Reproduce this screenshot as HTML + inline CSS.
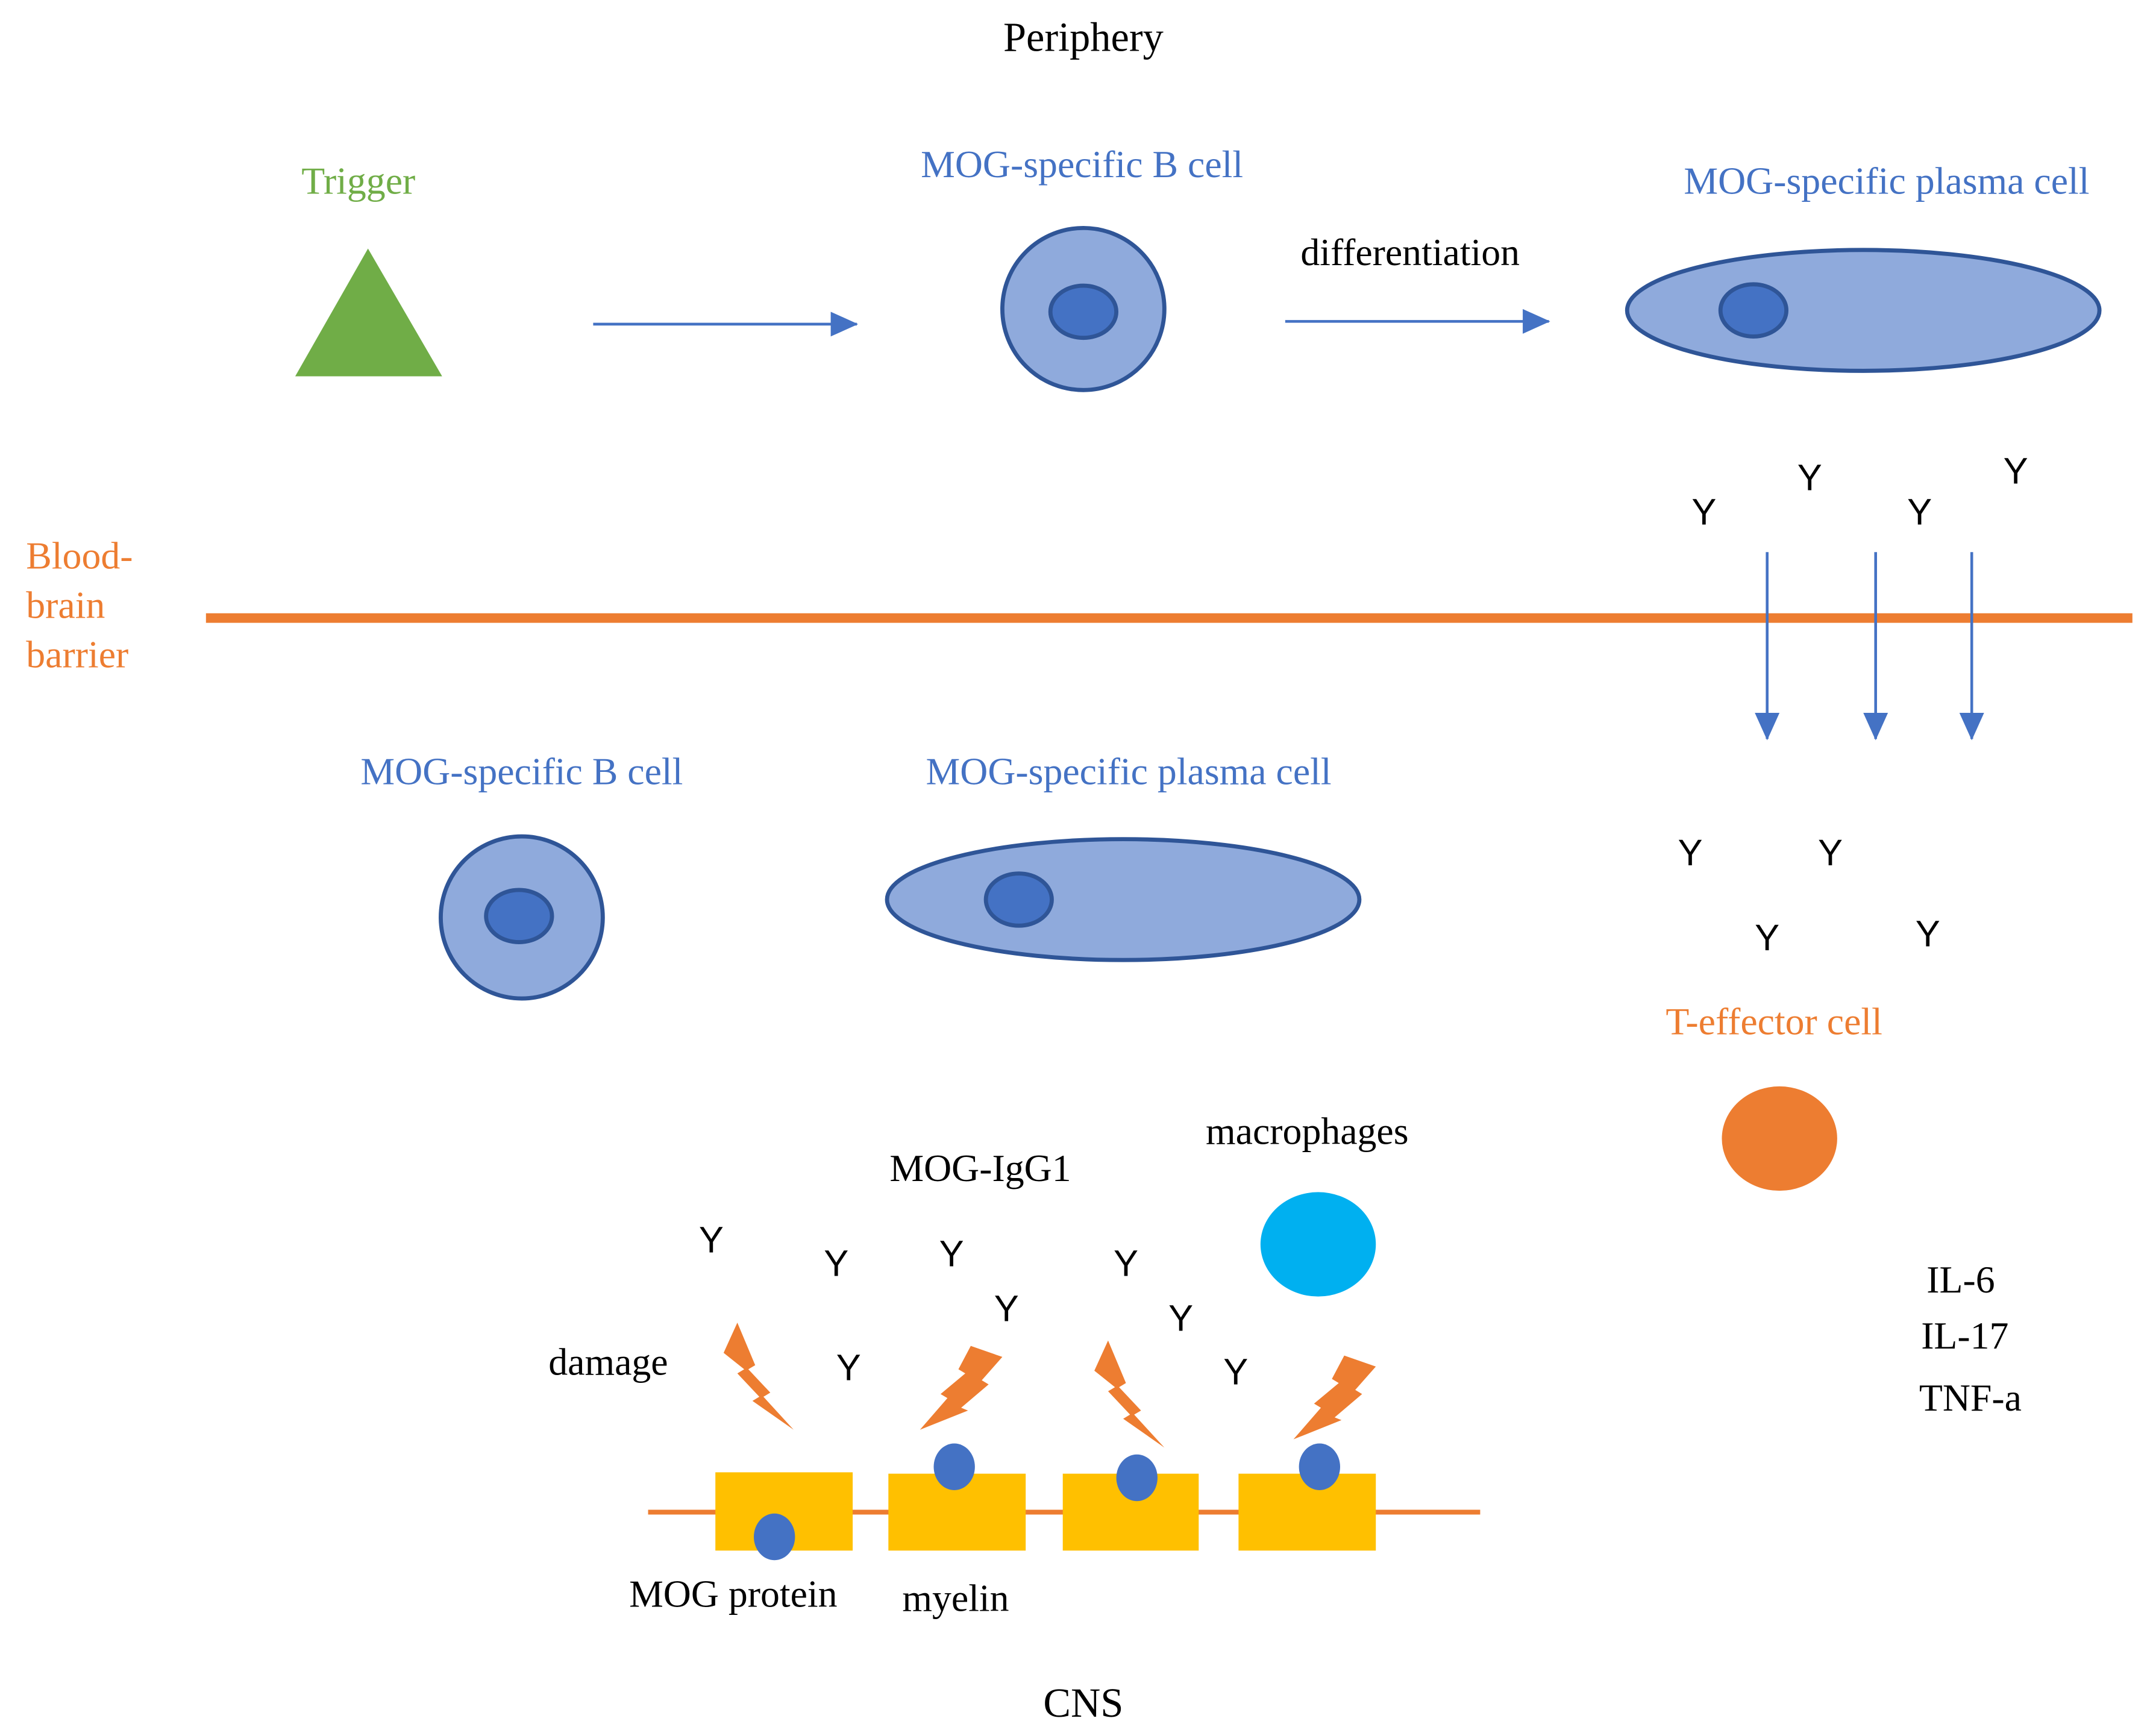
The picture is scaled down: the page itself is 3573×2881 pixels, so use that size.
<!DOCTYPE html>
<html><head><meta charset="utf-8"><style>
html,body{margin:0;padding:0;background:#fff;}
svg{display:block;}
.s{font-family:"Liberation Serif",serif;}
.y{font-family:"Liberation Sans",sans-serif;font-size:27px;fill:#000;text-anchor:middle;}
</style></head><body>
<svg width="3573" height="2881" viewBox="0 0 1568 1264" preserveAspectRatio="none" xmlns="http://www.w3.org/2000/svg">
<defs>
<marker id="ah2" markerWidth="20" markerHeight="18" refX="19" refY="9" orient="auto" markerUnits="userSpaceOnUse" viewBox="0 0 20 18">
<path d="M0,0 L20,9 L0,18 z" fill="#4472C4"/></marker>
</defs>
<g class="s" font-size="28" text-anchor="middle">
<text x="789" y="37" fill="#000" font-size="30">Periphery</text>
<text x="261" y="141" fill="#70AD47">Trigger</text>
<text x="788" y="129" fill="#4472C4">MOG-specific B cell</text>
<text x="1027" y="193" fill="#000">differentiation</text>
<text x="1374" y="141" fill="#4472C4">MOG-specific plasma cell</text>
<text x="380" y="571" fill="#4472C4">MOG-specific B cell</text>
<text x="822" y="571" fill="#4472C4">MOG-specific plasma cell</text>
<text x="1292" y="753" fill="#ED7D31">T-effector cell</text>
<text x="952" y="833" fill="#000">macrophages</text>
<text x="714" y="860" fill="#000">MOG-IgG1</text>
<text x="443" y="1001" fill="#000">damage</text>
<text x="1428" y="941" fill="#000">IL-6</text>
<text x="1431" y="982" fill="#000">IL-17</text>
<text x="1435" y="1027" fill="#000">TNF-a</text>
<text x="534" y="1170" fill="#000">MOG protein</text>
<text x="696" y="1173" fill="#000">myelin</text>
<text x="789" y="1250" fill="#000" font-size="30">CNS</text>
</g>
<g class="s" font-size="28" fill="#ED7D31">
<text x="19" y="414">Blood-</text>
<text x="19" y="450">brain</text>
<text x="19" y="486">barrier</text>
</g>
<polygon points="215,274 322,274 268,181" fill="#70AD47"/>
<line x1="432" y1="236" x2="624" y2="236" stroke="#4472C4" stroke-width="2" marker-end="url(#ah2)"/>
<line x1="936" y1="234" x2="1128" y2="234" stroke="#4472C4" stroke-width="2" marker-end="url(#ah2)"/>
<circle cx="789" cy="225" r="59" fill="#8FAADC" stroke="#2F5597" stroke-width="3"/>
<ellipse cx="789" cy="227" rx="24" ry="19" fill="#4472C4" stroke="#2F5597" stroke-width="3"/>
<ellipse cx="1357" cy="226" rx="172" ry="44" fill="#8FAADC" stroke="#2F5597" stroke-width="3"/>
<ellipse cx="1277" cy="226" rx="24" ry="19" fill="#4472C4" stroke="#2F5597" stroke-width="3"/>
<circle cx="380" cy="668" r="59" fill="#8FAADC" stroke="#2F5597" stroke-width="3"/>
<ellipse cx="378" cy="667" rx="24" ry="19" fill="#4472C4" stroke="#2F5597" stroke-width="3"/>
<ellipse cx="818" cy="655" rx="172" ry="44" fill="#8FAADC" stroke="#2F5597" stroke-width="3"/>
<ellipse cx="742" cy="655" rx="24" ry="19" fill="#4472C4" stroke="#2F5597" stroke-width="3"/>
<line x1="150" y1="450" x2="1553" y2="450" stroke="#ED7D31" stroke-width="7"/>
<g stroke="#4472C4" stroke-width="2">
<line x1="1287" y1="402" x2="1287" y2="538" marker-end="url(#ah2)"/>
<line x1="1366" y1="402" x2="1366" y2="538" marker-end="url(#ah2)"/>
<line x1="1436" y1="402" x2="1436" y2="538" marker-end="url(#ah2)"/>
</g>
<g class="y">
<text x="1241" y="382">Y</text><text x="1318" y="357">Y</text><text x="1398" y="382">Y</text><text x="1468" y="352">Y</text>
<text x="1231" y="630">Y</text><text x="1333" y="630">Y</text><text x="1287" y="692">Y</text><text x="1404" y="689">Y</text>
<text x="518" y="912">Y</text><text x="609" y="929">Y</text><text x="693" y="922">Y</text><text x="733" y="962">Y</text>
<text x="820" y="929">Y</text><text x="860" y="969">Y</text><text x="900" y="1008">Y</text><text x="618" y="1005">Y</text>
</g>
<ellipse cx="1296" cy="829" rx="42" ry="38" fill="#ED7D31"/>
<ellipse cx="960" cy="906" rx="42" ry="38" fill="#00B0F0"/>
<line x1="472" y1="1101" x2="1078" y2="1101" stroke="#ED7D31" stroke-width="3.5"/>
<g fill="#FFC000">
<rect x="521" y="1072" width="100" height="57"/>
<rect x="647" y="1073" width="100" height="56"/>
<rect x="774" y="1073" width="99" height="56"/>
<rect x="902" y="1073" width="100" height="56"/>
</g>
<g fill="#4472C4">
<ellipse cx="564" cy="1119" rx="15" ry="17"/>
<ellipse cx="695" cy="1068" rx="15" ry="17"/>
<ellipse cx="828" cy="1076" rx="15" ry="17"/>
<ellipse cx="961" cy="1068" rx="15" ry="17"/>
</g>
<g fill="#ED7D31">
<polygon id="b1" points="537,963 550,994 545,997 561,1014 556,1017 578,1041 548,1020 553,1017 537,1000 542,997 527,985"/>
<polygon points="537,963 550,994 545,997 561,1014 556,1017 578,1041 548,1020 553,1017 537,1000 542,997 527,985" transform="translate(270,13)"/>
<polygon points="707,980 730,988 715,1005 720,1008 700,1025 705,1027 670,1041 690,1018 685,1015 703,1000 698,997"/>
<polygon points="707,980 730,988 715,1005 720,1008 700,1025 705,1027 670,1041 690,1018 685,1015 703,1000 698,997" transform="translate(272,7)"/>
</g>
</svg>
</body></html>
